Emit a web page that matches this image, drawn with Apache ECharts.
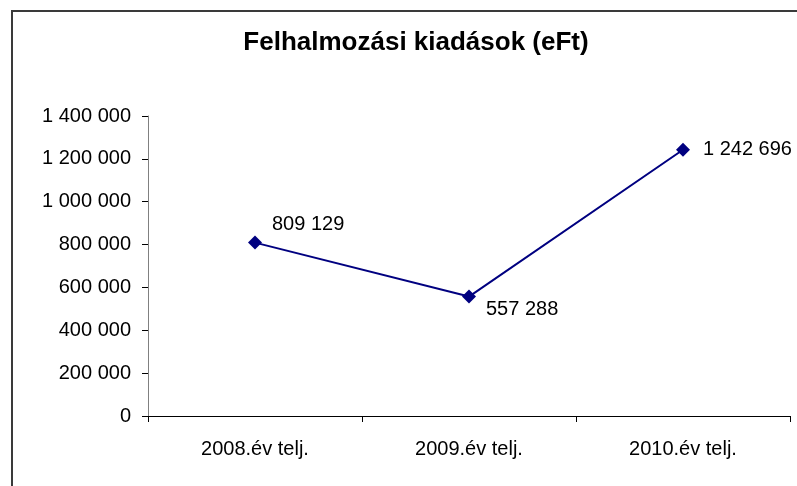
<!DOCTYPE html>
<html>
<head>
<meta charset="utf-8">
<script src="https://cdn.jsdelivr.net/npm/echarts@6/dist/echarts.min.js"></script>
<style>
  html, body { margin: 0; padding: 0; background: #fff; }
  #chart { width: 797px; height: 486px; }
</style>
</head>
<body>
<div id="chart"></div>
<script>
// adatok
const categories = ['2008.év telj.', '2009.év telj.', '2010.év telj.'];
const values = [809129, 557288, 1242696];
// címke eltolások pontonként
const labelOffsets = [[17, -18], [17, 13], [8, 0]];

// ezres tagolás szóközzel
function fmt(v) {
  return String(v).replace(/\B(?=(\d{3})+(?!\d))/g, ' ');
}

const chart = echarts.init(document.getElementById('chart'), null, { renderer: 'canvas' });

const option = {
  backgroundColor: '#fff',
  animation: false,
  title: {
    text: 'Felhalmozási kiadások (eFt)',
    left: 411,
    textAlign: 'center',
    top: 25,
    textStyle: {
      fontFamily: 'Liberation Sans, Arial, sans-serif',
      fontSize: 26,
      fontWeight: 'bold',
      color: '#000'
    }
  },
  graphic: [{
    type: 'rect',
    shape: { x: 12, y: 11, width: 800, height: 500 },
    style: { fill: 'none', stroke: '#3a3a3a', lineWidth: 2 },
    silent: true
  }],
  grid: {
    left: 148,
    right: 7,
    top: 116,
    bottom: 70
  },
  xAxis: {
    type: 'category',
    data: categories,
    boundaryGap: true,
    axisLine: { lineStyle: { color: '#000', width: 1 } },
    axisTick: { show: true, length: 6, lineStyle: { color: '#000' } },
    axisLabel: {
      margin: 23,
      fontFamily: 'Liberation Sans, Arial, sans-serif',
      fontSize: 20,
      color: '#000'
    }
  },
  yAxis: {
    type: 'value',
    min: 0,
    max: 1400000,
    interval: 200000,
    axisLine: { show: true, lineStyle: { color: '#808080', width: 1 } },
    axisTick: { show: true, length: 6, lineStyle: { color: '#000' } },
    splitLine: { show: false },
    axisLabel: {
      margin: 17,
      fontFamily: 'Liberation Sans, Arial, sans-serif',
      fontSize: 20,
      color: '#000',
      formatter: fmt
    }
  },
  series: [{
    type: 'line',
    data: values.map((v, i) => ({
      value: v,
      label: {
        position: i === 2 ? 'right' : 'inside',
        align: 'left',
        offset: labelOffsets[i]
      }
    })),
    symbol: 'diamond',
    symbolSize: 14,
    lineStyle: { color: '#000080', width: 2 },
    itemStyle: { color: '#000080' },
    label: {
      show: true,
      fontFamily: 'Liberation Sans, Arial, sans-serif',
      fontSize: 20,
      color: '#000',
      formatter: p => fmt(p.value)
    }
  }]
};

chart.setOption(option);
</script>
</body>
</html>
